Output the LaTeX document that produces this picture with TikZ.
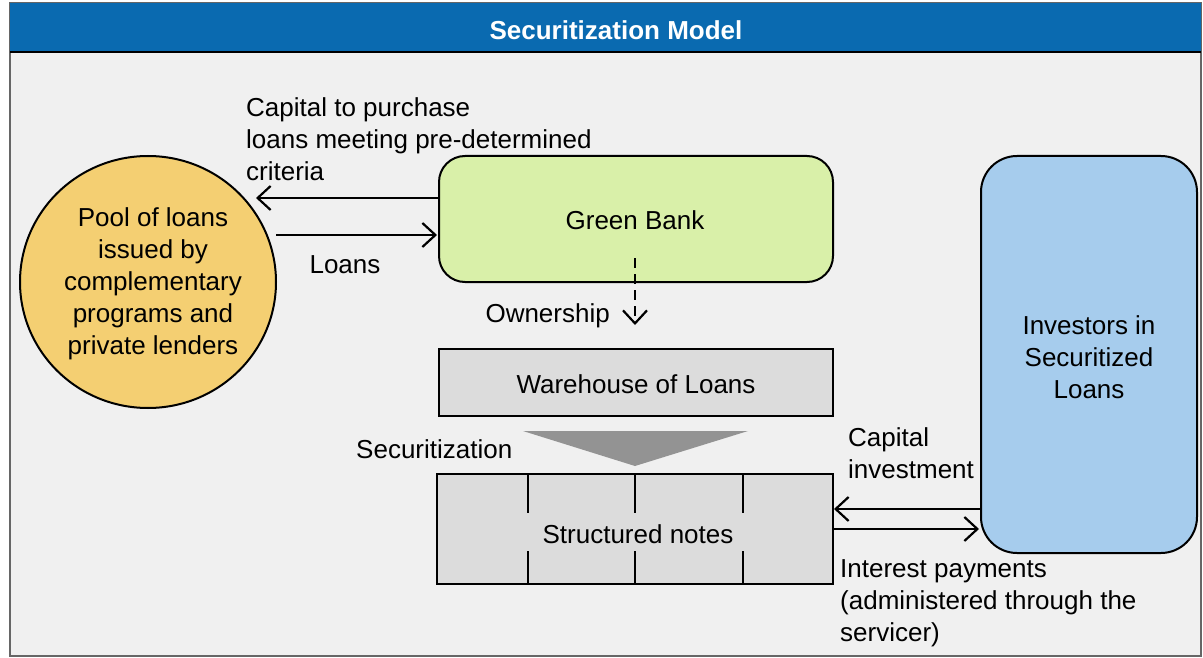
\documentclass[tikz,border=0pt]{standalone}
\usepackage{fontspec}
\setmainfont{Liberation Sans}
\usetikzlibrary{arrows.meta,shapes.geometric}
\definecolor{bgc}{HTML}{F0F0F0}
\definecolor{titleblue}{HTML}{0A6AB0}
\definecolor{poolc}{HTML}{F4CF72}
\definecolor{greenc}{HTML}{D9F0A9}
\definecolor{invc}{HTML}{A6CCED}
\definecolor{boxgray}{HTML}{DCDCDC}
\definecolor{trigray}{HTML}{939393}
\tikzset{
  txt/.style={font=\fontsize{26}{32}\selectfont, inner sep=0pt, align=center},
  ltxt/.style={font=\fontsize{26}{32}\selectfont, inner sep=0pt, align=left},
  flow/.style={line width=2.2pt, -{Straight Barb[length=13pt,width=24pt,line width=2.2pt]}},
  dflow/.style={flow, dash pattern=on 10pt off 6pt},
  boxst/.style={draw=black, line width=2pt}
}
\begin{document}
\begin{tikzpicture}[x=1pt,y=-1pt]
\useasboundingbox (0,0) rectangle (1203,658);
\fill[white] (0,0) rectangle (1203,658);
\draw[fill=bgc, draw=gray!80!black, line width=1.2pt] (10,3) rectangle (1201,656);
\fill[titleblue] (10,3) rectangle (1201,52);
\draw[black, line width=2.5pt] (10,52) -- (1201,52);
\node[txt, text=white, font=\fontsize{26}{32}\selectfont\bfseries] (title) at (616,30) {Securitization Model};

% shapes
\draw[boxst, fill=poolc] (148,282) ellipse [x radius=128, y radius=126];
\node[txt] (pool) at (153,284) {Pool of loans\\issued by\\complementary\\programs and\\private lenders};
\coordinate (poolIn) at (256,198);
\coordinate (poolOut) at (276,235);

\draw[boxst, fill=greenc, rounded corners=26pt] (439,156) rectangle (833,282);
\node[txt] (green) at (635,220) {Green Bank};
\coordinate (greenL) at (439,198);
\coordinate (greenLin) at (437,235);
\coordinate (greenB) at (635,258);

\draw[boxst, fill=invc, rounded corners=36pt] (981,156) rectangle (1197,553);
\node[txt] (inv) at (1089,357) {Investors in\\Securitized\\Loans};
\coordinate (invA) at (981,509);
\coordinate (invB) at (979,529);

\draw[boxst, fill=boxgray] (439,349) rectangle (833,416);
\node[txt] (wh) at (636,384) {Warehouse of Loans};
\coordinate (whT) at (635,325);

\fill[trigray] (523,431) -- (748,431) -- (635,466) -- cycle;

\draw[boxst, fill=boxgray] (437,474) rectangle (833,584);
\foreach \x in {528,635,743} {
  \draw[line width=2pt] (\x,474) -- (\x,513);
  \draw[line width=2pt] (\x,551) -- (\x,584);
}
\node[txt] (sn) at (638,534) {Structured notes};
\coordinate (snA) at (834,509);
\coordinate (snB) at (833,529);

% connectors
\draw[flow] (greenL) -- (poolIn);
\draw[flow] (poolOut) -- (greenLin);
\draw[dflow] (greenB) -- (whT);
\draw[flow] (invA) -- (snA);
\draw[flow] (snB) -- (invB);

% labels
\node[ltxt, anchor=north west] (l1) at (246,97) {Capital to purchase\\loans meeting pre-determined\\criteria};
\node[txt] (l2) at (345,265) {Loans};
\node[txt, anchor=east] (l3) at (610,316) {Ownership};
\node[txt, anchor=west] (l4) at (356,449) {Securitization};
\node[ltxt, anchor=north west] (l5) at (848,427) {Capital\\investment};
\node[ltxt, anchor=north west] (l6) at (840,559) {Interest payments\\(administered through the\\servicer)};
\end{tikzpicture}
\end{document}
